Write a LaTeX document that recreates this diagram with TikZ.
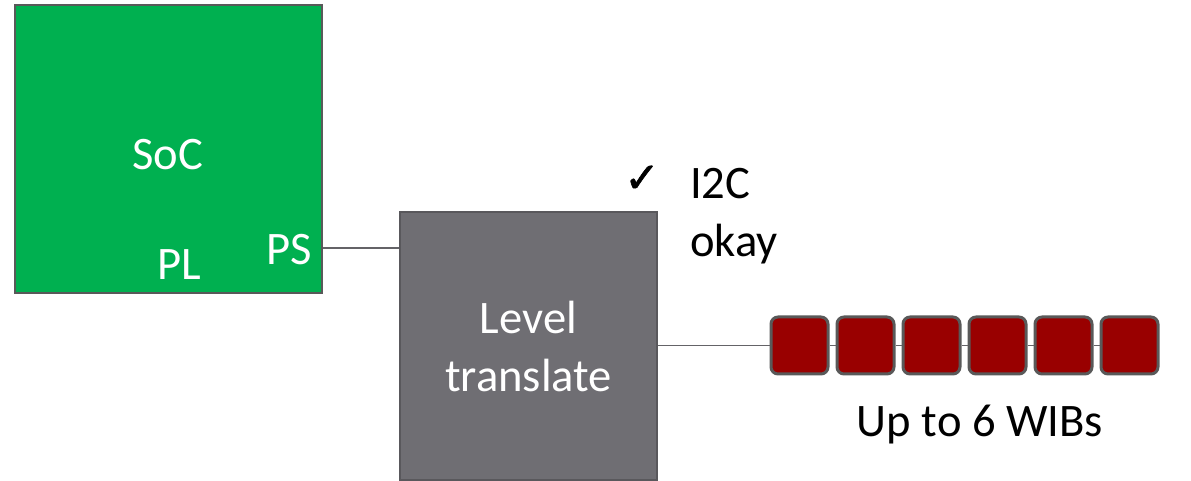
\documentclass[tikz,border=0pt]{standalone}
\usepackage{fontspec}
\setmainfont{Carlito}
\newfontfamily\symfont[FakeBold=1.6]{DejaVu Sans}
\usetikzlibrary{positioning}
\definecolor{socgreen}{HTML}{00B050}
\definecolor{boxgray}{HTML}{6F6E73}
\definecolor{edgegray}{HTML}{595959}
\definecolor{wibred}{HTML}{990000}

\begin{document}
\begin{tikzpicture}[x=0.5pt, y=-0.5pt,
  every node/.style={font=\fontsize{23.3}{29}\selectfont},
  block/.style={draw=edgegray, line width=1pt, inner sep=0pt},
  wib/.style={draw=edgegray, line width=1.5pt, fill=wibred, rounded corners=3.5pt,
    minimum width=28.5pt, minimum height=28.5pt, inner sep=0pt},
  wire/.style={draw=boxgray!90!black, line width=0.6pt}]

\useasboundingbox (0,0) rectangle (1191,481);

% SoC board
\node[block, fill=socgreen, minimum width=153.5pt, minimum height=144pt] (soc) at (168.5,149) {};
\node[white] (soclabel) at (168,155) {SoC};
\node[white] (pl) at (179,265) {PL};
\node[white] (ps) at (289,250) {PS};

% Level translator
\node[block, fill=boxgray, draw=boxgray!80!black, minimum width=128.5pt, minimum height=134pt,
  align=center, text=white] (lt) at (528.5,346) {Level\\translate};

% I2C status
\node[font=\symfont\fontsize{21}{24}\selectfont] (check) at (642,179) {✓};
\node[anchor=west, align=left] (i2c) at (683,216) {I2C\\okay};

% PS to translator
\coordinate (psout) at (soc.east |- 0,248);
\draw[wire] (psout) -- (psout -| lt.west);

% WIB chain
\foreach \i in {1,...,6}
  \node[wib] (wib\i) at (733.5+66*\i,345.5) {};
\draw[wire] (lt.east |- wib1) -- (wib1);
\foreach \i [evaluate=\i as \j using int(\i+1)] in {1,...,5}
  \draw[wire] (wib\i) -- (wib\j);
\node (wiblabel) at (980,425) {Up to 6 WIBs};

\end{tikzpicture}
\end{document}
